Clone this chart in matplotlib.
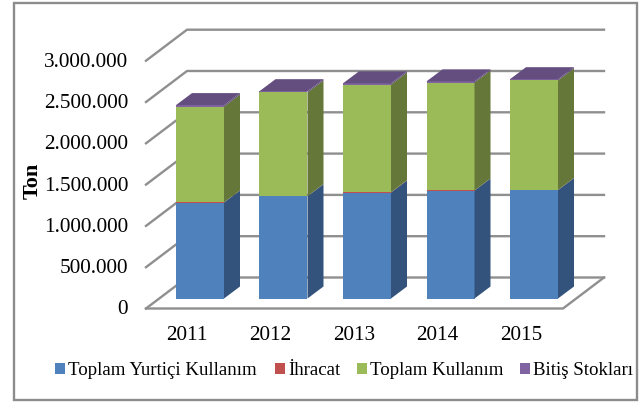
import matplotlib
matplotlib.use('Agg')
import matplotlib.pyplot as plt
from matplotlib.patches import Polygon, Rectangle

years = ['2011', '2012', '2013', '2014', '2015']
yurtici = [1162000, 1238000, 1283000, 1307000, 1313000]
ihracat = [1500, 2000, 4000, 1500, 2000]
kullanim = [1160000, 1254000, 1303000, 1306000, 1325000]
stok = [18000, 16000, 15000, 14000, 15000]
series_names = ['Toplam Yurtiçi Kullanım', 'İhracat', 'Toplam Kullanım', 'Bitiş Stokları']
ticks = [0, 500000, 1000000, 1500000, 2000000, 2500000, 3000000]
tick_labels = ['0', '500.000', '1.000.000', '1.500.000', '2.000.000', '2.500.000', '3.000.000']

W, H = 644, 410
plt.rcParams['font.family'] = ['Liberation Serif', 'DejaVu Serif']

fig = plt.figure(figsize=(W / 100, H / 100), dpi=100)
ax = fig.add_axes([0, 0, 1, 1])

# scale: one year = 83.5 px, 500.000 ton = 41.3 px, bar base at pixel y 299.5
px_x = 83.5
px_y = 41.3 / 500000
base = 299.5
ax.set_xlim(-200 / px_x, (W - 200) / px_x)
ax.set_ylim(-(H - base) / px_y, base / px_y)
ax.axis('off')


def dx(p):
    return p / px_x


def dy(p):
    return p / px_y


# outer frame
ax.add_patch(Rectangle((14 / W, 1 - 400.5 / H), (637 - 14) / W, (400.5 - 3.5) / H, transform=ax.transAxes,
                       fill=False, ec='#8c8c8c', lw=1.7, zorder=0))

# floor and gridlines
grid = '#8f8f8f'
x_front_l = dx(146 - 200)
x_back_l = dx(187 - 200)
x_back_r = dx(604 - 200)
x_front_r = dx(563 - 200)
for t in ticks:
    yb = t + dy(21)
    yf = t - dy(10)
    ax.plot([x_front_l, x_back_l, x_back_r], [yf, yb, yb], color=grid, lw=1.7, zorder=1)
ax.plot([x_front_l, x_front_r, x_back_r], [-dy(10), -dy(10), dy(21)], color=grid, lw=1.7, zorder=1)

# bars
series = [(yurtici, '#4f81bd', '#33537c'),
          (ihracat, '#c0504d', '#7e3432'),
          (kullanim, '#9bbb59', '#65783a'),
          (stok, '#8064a2', '#5f4a7a')]
half = dx(24)
ddx = dx(16)
ddy = dy(12)
for i in range(len(years)):
    bottom = 0
    for vals, front, side in series:
        top = bottom + vals[i]
        ax.add_patch(Rectangle((i - half, bottom), 2 * half, vals[i], fc=front, ec='none', zorder=3))
        ax.add_patch(Polygon([(i + half, bottom), (i + half + ddx, bottom + ddy),
                              (i + half + ddx, top + ddy), (i + half, top)],
                             fc=side, ec='none', zorder=3))
        bottom = top
    ax.add_patch(Polygon([(i - half, bottom), (i + half, bottom),
                          (i + half + ddx, bottom + ddy), (i - half + ddx, bottom + ddy)],
                         fc='#644d7f', ec='none', zorder=3))
    ax.text(i - dx(13), -dy(35.5), years[i], ha='center', va='center', fontsize=15.2, color='black')

for t, lab in zip(ticks, tick_labels):
    ax.text(dx(128 - 200), t - dy(10.5), lab, ha='right', va='center', fontsize=15.3, color='black')

ax.text(dx(33 - 200), dy(299 - 180), 'Ton', rotation=90, ha='center', va='center',
        fontsize=16, fontweight='bold', color='black')

# legend
leg_x = [55, 275, 357, 520]
colors = ['#4f81bd', '#c0504d', '#9bbb59', '#8064a2']
for x, name, c in zip(leg_x, series_names, colors):
    ax.add_patch(Rectangle((dx(x - 200), -dy(75)), dx(10), dy(10.5), fc=c, ec='none', zorder=3))
    ax.text(dx(x + 13 - 200), -dy(71), name, ha='left', va='center', fontsize=13.6, color='black')

fig.savefig('out.png', dpi=100)
